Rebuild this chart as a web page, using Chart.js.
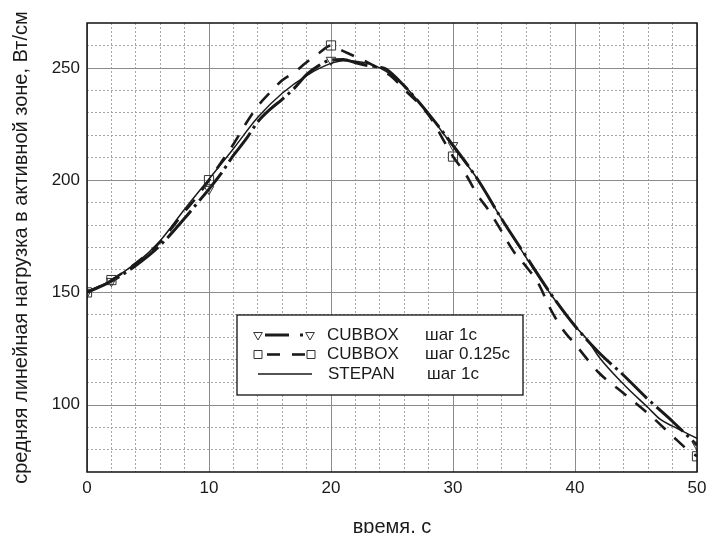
<!DOCTYPE html>
<html>
<head>
<meta charset="utf-8">
<script src="https://cdn.jsdelivr.net/npm/chart.js@4"></script>
<style>
  html, body { margin: 0; padding: 0; background: #fff; }
  #wrap { width: 708px; height: 533px; }
</style>
</head>
<body>
<div id="wrap"><canvas id="chart" width="708" height="533"></canvas></div>
<script>
// Данные (время, с / нагрузка, Вт/см)
const timeCubbox1 = [0, 2, 4, 6, 8, 9, 10, 11, 12, 13, 14, 15, 16, 17, 18, 19, 20, 21, 22, 23, 24, 24.5, 26, 28, 30, 32, 34, 36, 38, 40, 42, 44, 46, 48, 50];
const loadCubbox1 = [150, 155, 162, 171, 183, 189.5, 196, 203, 211, 218, 226, 231.5, 236, 241, 247, 251, 253.5, 253.7, 252.3, 251, 250.3, 249.5, 242, 229.5, 215.5, 200.5, 182.6, 166, 149.5, 135, 123, 113, 102.3, 92.5, 82];

const timeCubbox0125 = [0, 2, 4, 6, 8, 9, 10, 11, 12, 13, 14, 15, 16, 17, 18, 19, 20, 21, 22, 23, 24, 25, 26, 28, 30, 31, 32, 33, 34, 35, 36, 37, 38, 39, 40, 42, 44, 46, 48, 49, 50];
const loadCubbox0125 = [150, 155.5, 163, 172.5, 186, 192.5, 200, 208, 216, 225, 233, 239, 244.5, 248, 252.5, 256.5, 260, 257.5, 255, 252.5, 249.5, 246, 240.5, 229, 210.5, 203, 193.5, 186, 177, 168, 161.5, 154, 142.5, 133.5, 127, 114, 105, 96, 86, 81, 77];

const timeStepan = [0, 2, 4, 5, 6, 8, 10, 12, 14, 16, 18, 20, 21, 22, 24, 26, 28, 30, 32, 34, 36, 38, 40, 41, 42, 44, 46, 47, 48, 50];
const loadStepan = [150, 155.5, 163, 167.5, 173, 187, 200.5, 214, 228, 238.7, 246.6, 252, 253.2, 253, 250, 242, 229.5, 215, 200.5, 182.6, 165.5, 149.3, 135, 129, 121, 109, 98.6, 93.4, 90.4, 85];

const markerTimes = [0, 2, 10, 20, 30, 50];
const xTickLabels = [0, 10, 20, 30, 40, 50];
const yTickLabels = [100, 150, 200, 250];

const FONT = '"Liberation Sans", Arial, sans-serif';
const INK = '#1a1a1a';

function toPoints(xs, ys) {
    return xs.map((x, i) => ({ x: x, y: ys[i] }));
}
function markerRadius(r) {
    return ctx => (ctx.raw && markerTimes.includes(ctx.raw.x)) ? r : 0;
}

// основные линии сетки, рамка и легенда
const framePlugin = {
    id: 'frameAndLegend',
    beforeDatasetsDraw(chart) {
        const { ctx, chartArea: a, scales: { x, y } } = chart;
        ctx.save();
        ctx.strokeStyle = '#8c8c8c';
        ctx.lineWidth = 1;
        xTickLabels.forEach(v => {
            const px = Math.round(x.getPixelForValue(v)) + 0.5;
            ctx.beginPath(); ctx.moveTo(px, a.top); ctx.lineTo(px, a.bottom); ctx.stroke();
        });
        yTickLabels.forEach(v => {
            const py = Math.round(y.getPixelForValue(v)) + 0.5;
            ctx.beginPath(); ctx.moveTo(a.left, py); ctx.lineTo(a.right, py); ctx.stroke();
        });
        ctx.restore();
    },
    afterDatasetsDraw(chart) {
        const { ctx, chartArea: a } = chart;
        ctx.save();
        ctx.strokeStyle = '#111';
        ctx.lineWidth = 1.5;
        ctx.strokeRect(a.left, a.top, a.right - a.left, a.bottom - a.top);

        // легенда
        ctx.fillStyle = '#fff';
        ctx.fillRect(237, 315, 286, 80);
        ctx.strokeStyle = '#111';
        ctx.lineWidth = 1.3;
        ctx.strokeRect(237, 315, 286, 80);

        const rows = [335, 354.5, 374];
        ctx.strokeStyle = INK;
        ctx.lineCap = 'butt';

        // CUBBOX шаг 1с
        ctx.lineWidth = 3;
        ctx.beginPath(); ctx.moveTo(265, rows[0]); ctx.lineTo(289, rows[0]); ctx.stroke();
        ctx.beginPath(); ctx.moveTo(300, rows[0]); ctx.lineTo(303, rows[0]); ctx.stroke();
        // CUBBOX шаг 0.125с
        ctx.lineWidth = 2.6;
        ctx.beginPath(); ctx.moveTo(267, rows[1]); ctx.lineTo(280, rows[1]); ctx.stroke();
        ctx.beginPath(); ctx.moveTo(292, rows[1]); ctx.lineTo(305, rows[1]); ctx.stroke();
        // STEPAN шаг 1с
        ctx.lineWidth = 1.5;
        ctx.beginPath(); ctx.moveTo(258, rows[2]); ctx.lineTo(312, rows[2]); ctx.stroke();

        ctx.strokeStyle = '#333';
        ctx.lineWidth = 1;
        const drawPoint = Chart.helpers.drawPoint;
        [258, 310].forEach(px => drawPoint(ctx, { pointStyle: 'triangle', radius: 5, rotation: 180, borderWidth: 1 }, px, rows[0]));
        [258, 311].forEach(px => {
            ctx.beginPath(); ctx.rect(px - 4, rows[1] - 4, 8, 8); ctx.stroke();
        });

        ctx.fillStyle = INK;
        ctx.font = '17px ' + FONT;
        ctx.textBaseline = 'middle';
        ctx.textAlign = 'left';
        ctx.fillText('CUBBOX', 327, rows[0]);
        ctx.fillText('шаг 1с', 425, rows[0]);
        ctx.fillText('CUBBOX', 327, rows[1]);
        ctx.fillText('шаг 0.125с', 425, rows[1]);
        ctx.fillText('STEPAN', 328, rows[2]);
        ctx.fillText('шаг 1с', 427, rows[2]);
        ctx.restore();
    }
};

Chart.defaults.font.family = FONT;
Chart.defaults.font.size = 17;
Chart.defaults.color = INK;

const chartCtx = document.getElementById('chart').getContext('2d');
new Chart(chartCtx, {
    type: 'line',
    data: {
        datasets: [
            {
                label: 'STEPAN шаг 1с',
                data: toPoints(timeStepan, loadStepan),
                borderColor: INK,
                borderWidth: 1.5,
                pointRadius: 0,
                cubicInterpolationMode: 'monotone',
                clip: 0
            },
            {
                label: 'CUBBOX шаг 1с',
                data: toPoints(timeCubbox1, loadCubbox1),
                borderColor: INK,
                borderWidth: 3,
                borderDash: [36, 5, 3, 5],
                pointStyle: 'triangle',
                pointRotation: 180,
                pointRadius: markerRadius(5.5),
                pointBorderWidth: 1,
                pointBorderColor: '#333',
                pointBackgroundColor: 'rgba(255,255,255,0)',
                cubicInterpolationMode: 'monotone',
                clip: 0
            },
            {
                label: 'CUBBOX шаг 0.125с',
                data: toPoints(timeCubbox0125, loadCubbox0125),
                borderColor: INK,
                borderWidth: 2.6,
                borderDash: [14, 12],
                pointStyle: 'rect',
                pointRadius: markerRadius(6.5),
                pointBorderWidth: 1,
                pointBorderColor: '#333',
                pointBackgroundColor: 'rgba(255,255,255,0)',
                cubicInterpolationMode: 'monotone',
                clip: 0
            }
        ]
    },
    options: {
        responsive: false,
        devicePixelRatio: 1,
        animation: false,
        layout: { padding: { left: 0, top: 23, right: 11, bottom: 0 } },
        plugins: {
            legend: { display: false },
            tooltip: { enabled: false }
        },
        scales: {
            x: {
                type: 'linear',
                min: 0,
                max: 50,
                afterFit: s => { s.height = 61; s.paddingLeft = 0; s.paddingRight = 0; },
                ticks: {
                    stepSize: 2,
                    autoSkip: false,
                    maxRotation: 0,
                    padding: 6,
                    callback: v => xTickLabels.includes(v) ? String(v) : ''
                },
                grid: {
                    drawTicks: false,
                    lineWidth: 1,
                    color: c => (c.tick && c.tick.value % 10 === 0) ? 'rgba(0,0,0,0)' : '#a6a6a6'
                },
                border: { display: false, dash: [2, 2] },
                title: {
                    display: true,
                    text: 'время, с',
                    font: { size: 20 },
                    padding: { top: 0, bottom: -6 }
                }
            },
            y: {
                min: 70,
                max: 270,
                afterFit: s => { s.width = 87; s.paddingTop = 0; s.paddingBottom = 0; },
                ticks: {
                    stepSize: 10,
                    autoSkip: false,
                    padding: 7,
                    callback: v => yTickLabels.includes(v) ? String(v) : ''
                },
                grid: {
                    drawTicks: false,
                    lineWidth: 1,
                    color: c => (c.tick && (c.tick.value % 50 === 0 || c.tick.value === 70 || c.tick.value === 270)) ? 'rgba(0,0,0,0)' : '#a6a6a6'
                },
                border: { display: false, dash: [2, 2] },
                title: {
                    display: true,
                    text: 'средняя линейная нагрузка в активной зоне, Вт/см',
                    font: { size: 20 },
                    padding: { top: 9, bottom: 0 }
                }
            }
        }
    },
    plugins: [framePlugin]
});
</script>
</body>
</html>
